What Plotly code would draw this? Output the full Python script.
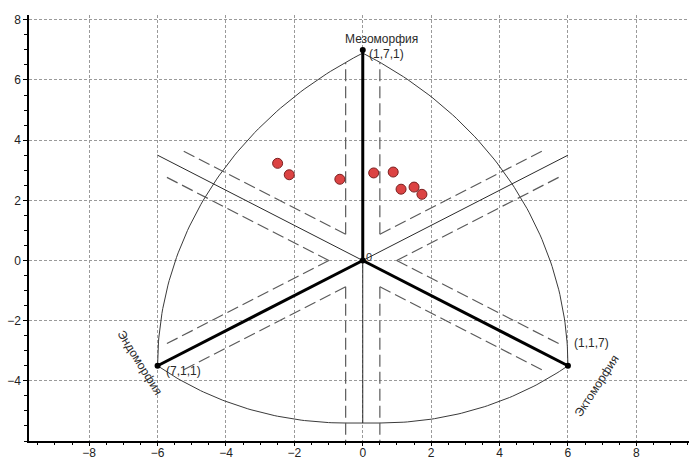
import numpy as np
import plotly.graph_objects as go

# ---- data ----
point_x = [-2.49, -2.15, -0.67, 0.32, 0.89, 1.12, 1.50, 1.73]
point_y = [3.23, 2.85, 2.70, 2.91, 2.94, 2.37, 2.44, 2.20]

vertex_x = [0, -6, 6]
vertex_y = [7, -3.5, -3.5]
vertex_codes = ["(1,7,1)", "(7,1,1)", "(1,1,7)"]
axis_names = ["Мезоморфия", "Эндоморфия", "Эктоморфия"]

x_ticks = [-8, -6, -4, -2, 0, 2, 4, 6, 8]
y_ticks = [-4, -2, 0, 2, 4, 6, 8]

# ---- geometry helpers ----
M = np.array([vertex_x[0], vertex_y[0]], float)
E = np.array([vertex_x[1], vertex_y[1]], float)
C = np.array([vertex_x[2], vertex_y[2]], float)
R_top = float(np.linalg.norm(C - E))  # 12

# bottom arc parts
bc_l = np.array([-0.5, 3.5])
R_bot = float(np.linalg.norm(E - bc_l))
bottom_y = bc_l[1] - R_bot

fig = go.Figure()

def add_line(xs, ys, color, width, dash="solid"):
    fig.add_trace(go.Scatter(x=xs, y=ys, mode="lines",
                             line=dict(color=color, width=width, dash=dash),
                             hoverinfo="skip", showlegend=False))

# outer arcs
a0 = np.arctan2(C[1]-E[1], C[0]-E[0])
a1 = np.arccos((0 - E[0]) / R_top)
t = np.linspace(a0, a1, 80)
xs = list(E[0] + R_top*np.cos(t)) + [M[0]]
ys = list(E[1] + R_top*np.sin(t)) + [M[1]]
add_line(xs, ys, "#3a3a3a", 1)
add_line([-v for v in xs], ys, "#3a3a3a", 1)
aL0 = np.arctan2(E[1]-bc_l[1], E[0]-bc_l[0])
tl = np.linspace(aL0, -np.pi/2, 60)
bx = list(bc_l[0] + R_bot*np.cos(tl))
by = list(bc_l[1] + R_bot*np.sin(tl))
bx2 = [-v for v in bx[::-1]]
by2 = by[::-1]
add_line(bx + bx2, by + by2, "#3a3a3a", 1)

# rays
d = 0.5
dirs = [M, -E, C, np.array([0, bottom_y]), E, -C]
units = [v/np.linalg.norm(v) for v in dirs]
t_end = [None, 6.45, 6.45, 6.6, 6.45, 6.45]

def arc_top_y(x):
    cx = E[0] if x >= 0 else C[0]
    return E[1] + np.sqrt(R_top**2 - (x - cx)**2)

for i in range(6):
    ui = units[i]
    for j in [(i-1) % 6, (i+1) % 6]:
        uj = units[j]
        half = np.arccos(float(np.dot(ui, uj)))/2
        bis = (ui+uj)/np.linalg.norm(ui+uj)
        V = d/np.sin(half)*bis
        perp = V - np.dot(V, ui)*ui
        if i == 0:
            end = np.array([perp[0], arc_top_y(perp[0])])
        else:
            end = perp + t_end[i]*ui
        add_line([V[0], end[0]], [V[1], end[1]], "#5a5a5a", 1.2, "12px,5px")

# thin opposite rays
for v in [-E, -C, np.array([0, bottom_y])]:
    add_line([0, v[0]], [0, v[1]], "#2a2a2a", 1)

# thick main rays
for v in [M, E, C]:
    add_line([0, v[0]], [0, v[1]], "#000000", 3)

# vertex dots
fig.add_trace(go.Scatter(x=vertex_x + [0], y=vertex_y + [0], mode="markers",
                         marker=dict(color="black", size=6),
                         hoverinfo="skip", showlegend=False))

# data points
fig.add_trace(go.Scatter(x=point_x, y=point_y, mode="markers",
                         marker=dict(color="#dc4343", size=10,
                                     line=dict(color="#7a2020", width=1)),
                         showlegend=False))

font = dict(family="Liberation Sans, Arial, sans-serif", size=12, color="#2a2a2a")
ann = [
    dict(x=0.54, y=7.35, text=axis_names[0], textangle=0),
    dict(x=0.7, y=6.86, text=vertex_codes[0], textangle=0),
    dict(x=-5.24, y=-3.66, text=vertex_codes[1], textangle=0),
    dict(x=6.68, y=-2.75, text=vertex_codes[2], textangle=0),
    dict(x=-6.51, y=-3.40, text=axis_names[1], textangle=58),
    dict(x=6.83, y=-4.16, text=axis_names[2], textangle=-57),
]
for a in ann:
    fig.add_annotation(x=a["x"], y=a["y"], text=a["text"], textangle=a["textangle"],
                       showarrow=False, font=font, xanchor="center", yanchor="middle")
fig.add_annotation(x=0.18, y=0.12, text="0", showarrow=False,
                   font=dict(family="Liberation Sans, Arial, sans-serif", size=11, color="#333"),
                   xanchor="center", yanchor="middle")

def axis_common(tl, mtl):
    return dict(showgrid=True, gridcolor="#9a9a9a", gridwidth=1, griddash="3px,2px",
                zeroline=False, showline=True, linecolor="#000", linewidth=1.5,
                ticks="outside", ticklen=tl, tickcolor="#000", tickwidth=1,
                automargin=False,
                tickfont=dict(family="Liberation Sans, Arial, sans-serif", size=12, color="#222"),
                minor=dict(dtick=0.5, ticks="outside", ticklen=mtl, tickcolor="#000", showgrid=False))

fig.update_xaxes(range=[-9.76, 9.54], tickvals=x_ticks, ticklabelstandoff=-3, **axis_common(3, 2))
fig.update_yaxes(range=[-6.0, 8.16], tickvals=y_ticks, **axis_common(4, 3))

fig.update_layout(width=689, height=459, margin=dict(l=29, r=0, t=15, b=18),
                  plot_bgcolor="white", paper_bgcolor="white")

fig.write_html("out.html", config={"displayModeBar": False},
               post_script="document.body.style.margin='0';document.body.style.overflow='hidden';")
